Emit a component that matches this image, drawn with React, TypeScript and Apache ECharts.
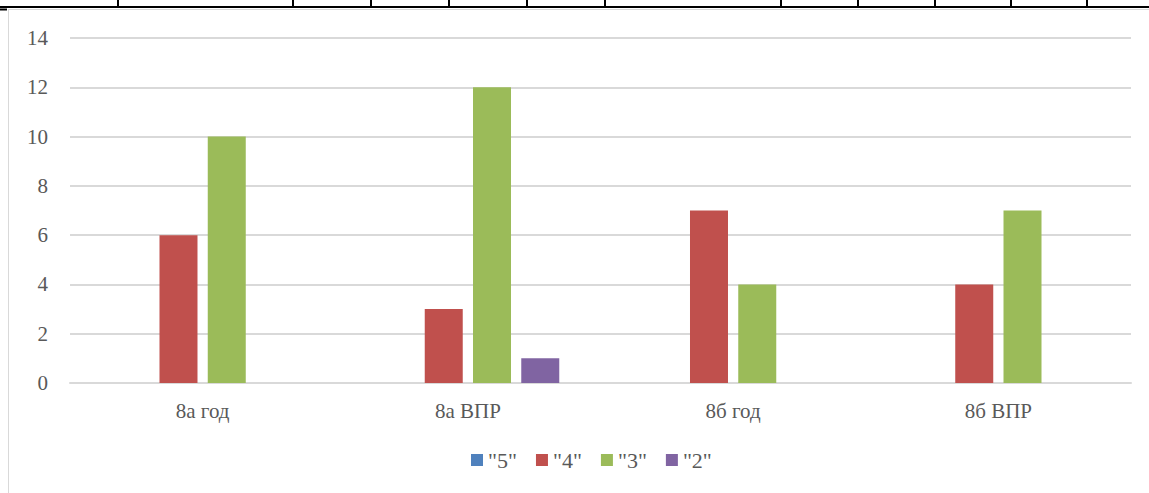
import React, { useEffect, useRef } from "react";
import * as echarts from "echarts";

const categories = ["8а год", "8а ВПР", "8б год", "8б ВПР"];
const seriesNames = ['"5"', '"4"', '"3"', '"2"'];
const values5 = [0, 0, 0, 0];
const values4 = [6, 3, 7, 4];
const values3 = [10, 12, 4, 7];
const values2 = [0, 1, 0, 0];
const yTicks = [0, 2, 4, 6, 8, 10, 12, 14];

const colors = ["#4F81BD", "#C0504D", "#9BBB59", "#8064A2"];
const topTickXs = [118, 293, 371, 449, 527, 605, 781, 858, 935, 1011, 1087];

export default function App() {
  const ref = useRef<HTMLDivElement>(null);
  useEffect(() => {
    if (!ref.current) return;
    const chart = echarts.init(ref.current, null, { renderer: "svg" });
    const font = "'Liberation Serif', 'Times New Roman', serif";
    const data = [values5, values4, values3, values2];
    const graphics: any[] = [
      { type: "rect", shape: { x: 0, y: 0, width: 1149, height: 493 }, style: { fill: "#fff" }, z: -10, silent: true },
      { type: "line", shape: { x1: 8, y1: 9.5, x2: 1149, y2: 9.5 }, style: { stroke: "#d9d9d9", lineWidth: 1 } },
      { type: "line", shape: { x1: 8.5, y1: 9, x2: 8.5, y2: 493 }, style: { stroke: "#d9d9d9", lineWidth: 1 } },
      { type: "line", shape: { x1: 0, y1: 7, x2: 1149, y2: 7 }, style: { stroke: "#000", lineWidth: 2 } },
      { type: "line", shape: { x1: 0, y1: 9.5, x2: 7, y2: 9.5 }, style: { stroke: "#000", lineWidth: 2 } },
      ...topTickXs.map((x) => ({
        type: "line",
        shape: { x1: x, y1: 0, x2: x, y2: 7 },
        style: { stroke: "#000", lineWidth: 2 },
      })),
    ];
    chart.setOption({
      animation: false,
      backgroundColor: "#fff",
      grid: { left: 70, right: 18, top: 38, bottom: 110, containLabel: false },
      legend: {
        bottom: 17,
        left: 466,
        itemWidth: 12,
        itemHeight: 12,
        itemGap: 19,
        icon: "rect",
        textStyle: { fontFamily: font, fontSize: 22, color: "#595959" },
        data: seriesNames,
      },
      xAxis: {
        type: "category",
        data: categories,
        axisLine: { lineStyle: { color: "#d9d9d9", width: 2 } },
        axisTick: { show: false },
        axisLabel: { fontFamily: font, fontSize: 21, color: "#595959", margin: 17 },
      },
      yAxis: {
        type: "value",
        min: yTicks[0],
        max: yTicks[yTicks.length - 1],
        interval: 2,
        axisLine: { show: false },
        axisTick: { show: false },
        splitLine: { lineStyle: { color: "#d9d9d9", width: 2 } },
        axisLabel: { fontFamily: font, fontSize: 21, color: "#595959", margin: 22 },
      },
      series: seriesNames.map((name, i) => ({
        name,
        type: "bar",
        data: data[i],
        barWidth: 38,
        barGap: "27%",
        itemStyle: { color: colors[i] },
      })),
      graphic: graphics,
    });
    return () => chart.dispose();
  }, []);
  return (
    <div
      ref={ref}
      style={{ position: "fixed", left: 0, top: 0, width: 1149, height: 493 }}
    />
  );
}
